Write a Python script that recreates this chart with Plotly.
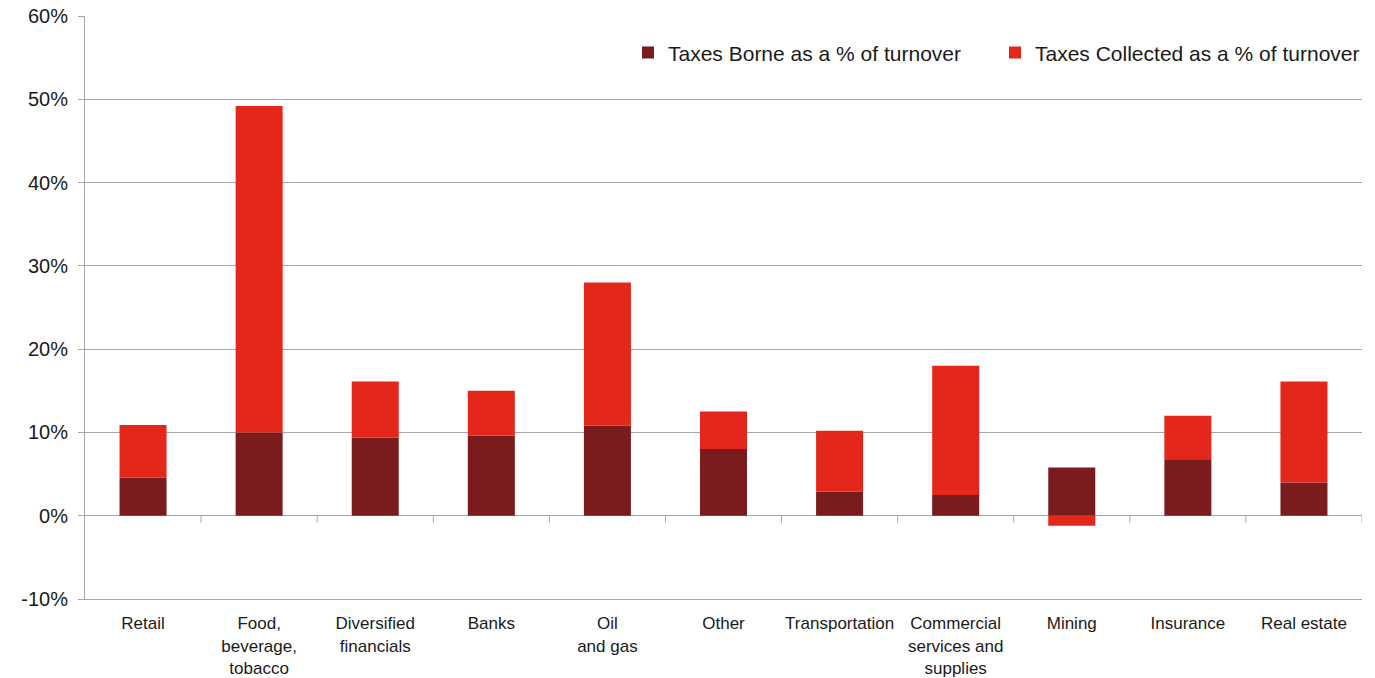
import plotly.graph_objects as go

# Sectors and tax rates (% of turnover)
categories = [
    "Retail", "Food,<br>beverage,<br>tobacco", "Diversified<br>financials", "Banks",
    "Oil<br>and gas", "Other", "Transportation", "Commercial<br>services and<br>supplies",
    "Mining", "Insurance", "Real estate",
]
taxes_borne = [4.6, 10.0, 9.4, 9.6, 10.8, 8.0, 2.9, 2.5, 5.8, 6.7, 4.0]
taxes_collected = [6.3, 39.2, 6.7, 5.4, 17.2, 4.5, 7.3, 15.5, -1.2, 5.3, 12.1]
y_ticks = [-10, 0, 10, 20, 30, 40, 50, 60]
y_tick_labels = ["-10%", "0%", "10%", "20%", "30%", "40%", "50%", "60%"]

FONT = "Liberation Sans, Arial, Helvetica, sans-serif"
GRID = "#a8a8a8"

fig = go.Figure()
fig.add_trace(go.Bar(
    x=categories, y=taxes_borne, name="Taxes Borne as a % of turnover",
    marker=dict(color="#7a1c1e", line=dict(width=0)),
))
fig.add_trace(go.Bar(
    x=categories, y=taxes_collected, name="Taxes Collected as a % of turnover",
    marker=dict(color="#e3271b", line=dict(width=0)),
))

# Category separator ticks hanging below the zero line
shapes = []
for i in range(len(categories)):
    shapes.append(dict(
        type="line", xref="x", yref="y",
        x0=i + 0.5, x1=i + 0.5, y0=0, y1=-0.85,
        line=dict(color=GRID, width=1),
    ))

fig.update_layout(
    width=1375, height=678,
    margin=dict(l=85, r=13, t=16, b=79, autoexpand=False),
    paper_bgcolor="white", plot_bgcolor="white",
    barmode="relative", bargap=0.595,
    font=dict(family=FONT, color="#1a1a1a", size=17),
    shapes=shapes,
    legend=dict(
        orientation="h", x=1.0, xanchor="right", y=0.937, yanchor="middle",
        font=dict(size=21, family=FONT), traceorder="normal",
        bgcolor="rgba(0,0,0,0)", itemwidth=30,
        entrywidth=322, entrywidthmode="pixels",
    ),
    xaxis=dict(
        showgrid=False, showline=True, linecolor=GRID, linewidth=1,
        ticks="", tickfont=dict(size=17), automargin=False,
        ticklabelstandoff=9,
        range=[-0.5, len(categories) - 0.5],
    ),
    yaxis=dict(
        range=[-10, 60], tickmode="array", tickvals=y_ticks, ticktext=y_tick_labels,
        showgrid=True, gridcolor=GRID, gridwidth=1,
        zeroline=True, zerolinecolor=GRID, zerolinewidth=1,
        showline=True, linecolor=GRID, linewidth=1,
        ticks="outside", ticklen=6, tickcolor=GRID, automargin=False,
        tickfont=dict(size=20), ticklabelstandoff=6,
    ),
)

fig.write_html("out.html")
